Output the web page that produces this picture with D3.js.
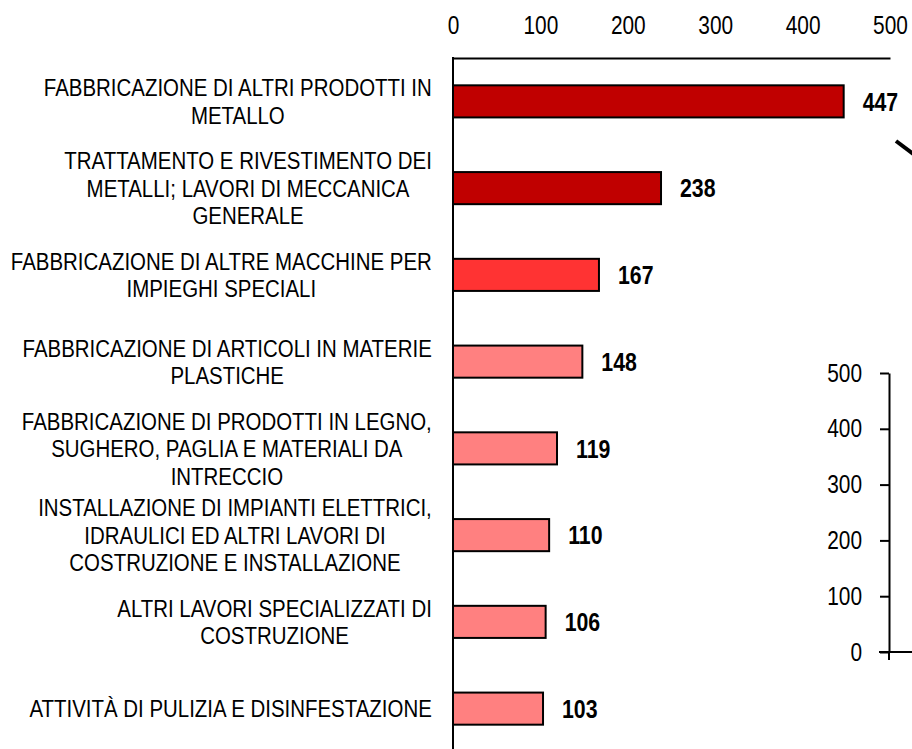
<!DOCTYPE html>
<html>
<head>
<meta charset="utf-8">
<script src="https://cdn.jsdelivr.net/npm/d3@7"></script>
<style>
    body { margin: 0; background: #fff; }
    svg { display: block; }
    text { font-family: "Liberation Sans", Arial, sans-serif; fill: #000; }
</style>
</head>
<body>
<script>
// categories, top to bottom ("|" = line break in the label)
const categories = [
    "FABBRICAZIONE DI ALTRI PRODOTTI IN|METALLO",
    "TRATTAMENTO E RIVESTIMENTO DEI|METALLI; LAVORI DI MECCANICA|GENERALE",
    "FABBRICAZIONE DI ALTRE MACCHINE PER|IMPIEGHI SPECIALI",
    "FABBRICAZIONE DI ARTICOLI IN MATERIE|PLASTICHE",
    "FABBRICAZIONE DI PRODOTTI IN LEGNO,|SUGHERO, PAGLIA E MATERIALI DA|INTRECCIO",
    "INSTALLAZIONE DI IMPIANTI ELETTRICI,|IDRAULICI ED ALTRI LAVORI DI|COSTRUZIONE E INSTALLAZIONE",
    "ALTRI LAVORI SPECIALIZZATI DI|COSTRUZIONE",
    "ATTIVITÀ DI PULIZIA E DISINFESTAZIONE"
];
const values = [447, 238, 167, 148, 119, 110, 106, 103];
const xTicks = [0, 100, 200, 300, 400, 500];

// second (cut off) chart on the right, only its axis is visible
const insetTicks = [0, 100, 200, 300, 400, 500];

const width = 912, height = 749;
const squeeze = 0.835; // the original uses a narrow font

const svg = d3.select("body").append("svg")
    .attr("width", width)
    .attr("height", height);

const x = d3.scaleLinear().domain([0, 500]).range([453, 890]);
const y = d3.scaleBand().domain(categories).range([58, 752])
    .paddingInner(0.63).paddingOuter(0.315);
const color = d3.scaleThreshold().domain([150, 200])
    .range(["#FF8080", "#FF3333", "#C00000"]);

// top axis
const xAxis = svg.append("g")
    .attr("transform", "translate(0,58)")
    .call(d3.axisTop(x).tickValues(xTicks).tickSize(0).tickPadding(24));
xAxis.select(".domain").attr("stroke", "#000").attr("stroke-width", 2);
xAxis.selectAll("text")
    .attr("font-size", 25)
    .attr("transform", `scale(${squeeze},1)`)
    .style("font-family", null);

// vertical axis line
svg.append("line")
    .attr("x1", x(0)).attr("x2", x(0))
    .attr("y1", 57).attr("y2", height)
    .attr("stroke", "#000").attr("stroke-width", 2);

// bars
svg.append("g").selectAll("rect")
    .data(values)
    .join("rect")
    .attr("x", x(0))
    .attr("y", (d, i) => y(categories[i]))
    .attr("width", d => x(d) - x(0))
    .attr("height", y.bandwidth())
    .attr("fill", d => color(d))
    .attr("stroke", "#000")
    .attr("stroke-width", 2);

// value labels
svg.append("g").selectAll("text")
    .data(values)
    .join("text")
    .attr("transform", (d, i) =>
        `translate(${x(d) + 19},${y(categories[i]) + y.bandwidth() / 2}) scale(${squeeze},1)`)
    .attr("dy", "0.36em")
    .attr("font-size", 25.5)
    .attr("font-weight", "bold")
    .text(d => d);

// category labels: lines centred in a block that sits against the axis
const lineH = 27.5;
const labels = svg.append("g").selectAll("text")
    .data(categories)
    .join("text")
    .attr("font-size", 24.5)
    .attr("text-anchor", "middle");

labels.each(function (c) {
    const t = d3.select(this);
    const lines = c.split("|");
    const cy = y(c) + y.bandwidth() / 2;
    lines.forEach((l, j) => {
        t.append("tspan")
            .attr("x", 0)
            .attr("y", (j - (lines.length - 1) / 2) * lineH)
            .attr("dy", "0.36em")
            .text(l);
    });
    let w = 0;
    t.selectAll("tspan").each(function () { w = Math.max(w, this.getComputedTextLength()); });
    t.attr("transform", `translate(${432 - w * squeeze / 2},${cy}) scale(${squeeze},1)`);
});

// inset chart axis on the right
const yi = d3.scaleLinear().domain([0, 500]).range([652, 373]);
const insetAxis = svg.append("g")
    .attr("transform", "translate(889,0)")
    .call(d3.axisLeft(yi).tickValues(insetTicks).tickSizeInner(9).tickSizeOuter(0).tickPadding(18));
insetAxis.selectAll("line, path").attr("stroke", "#000").attr("stroke-width", 2);
insetAxis.selectAll("text")
    .attr("font-size", 25)
    .attr("x", -27 / squeeze)
    .attr("transform", `scale(${squeeze},1)`)
    .style("font-family", null);

svg.append("line")
    .attr("x1", 889).attr("x2", 889)
    .attr("y1", yi(0)).attr("y2", yi(0) + 8)
    .attr("stroke", "#000").attr("stroke-width", 2);
svg.append("line")
    .attr("x1", 879).attr("x2", width)
    .attr("y1", yi(0)).attr("y2", yi(0))
    .attr("stroke", "#000").attr("stroke-width", 2);

// fragment of a leader line from the neighbouring chart
svg.append("line")
    .attr("x1", 896).attr("y1", 141)
    .attr("x2", 920).attr("y2", 159)
    .attr("stroke", "#000").attr("stroke-width", 4);
</script>
</body>
</html>
